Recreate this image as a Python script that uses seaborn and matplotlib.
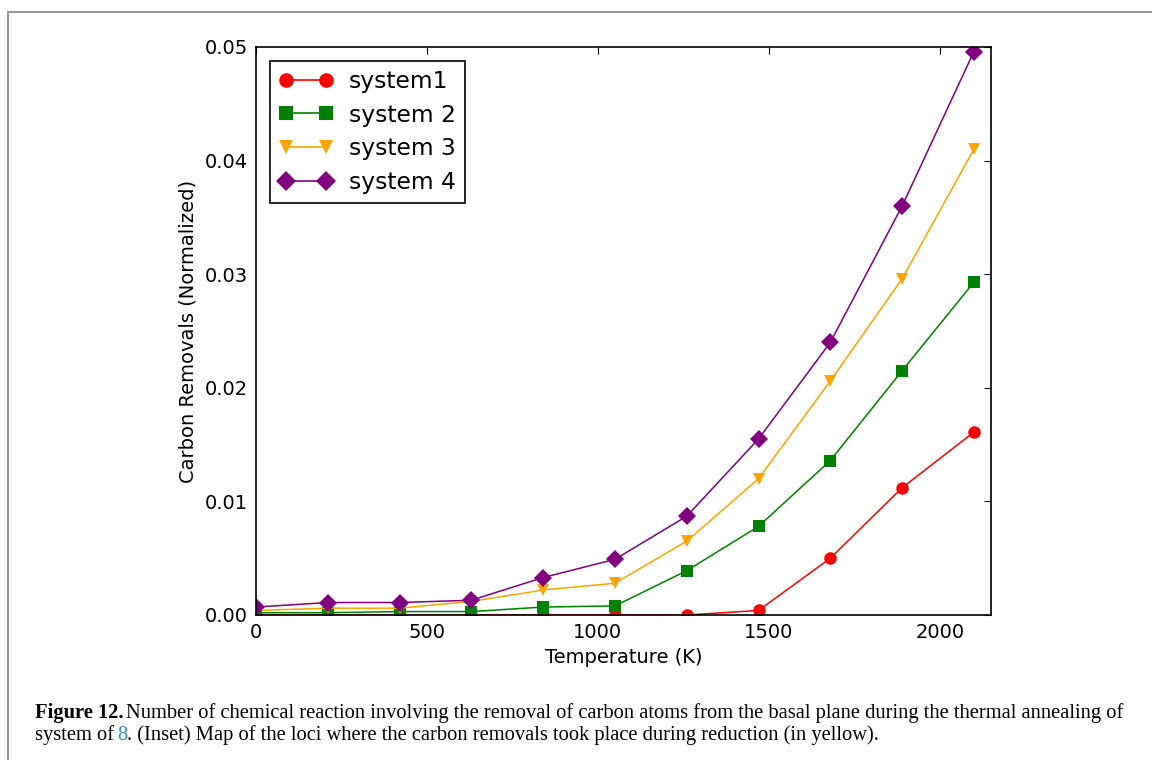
import matplotlib
matplotlib.use("Agg")
import matplotlib.pyplot as plt
from matplotlib.patches import Rectangle
from matplotlib.ticker import FormatStrFormatter
import numpy as np
import pandas as pd
import seaborn as sns

# Annealing temperatures (K)
temperature = [0, 210, 420, 630, 840, 1050, 1260, 1470, 1680, 1890, 2100]

# Normalized carbon removals per system
system1 = [0.0, 0.0, 0.0, 0.0, 0.0, 0.0, 0.0, 0.0004, 0.0050, 0.0112, 0.0161]
system2 = [0.0002, 0.0002, 0.0003, 0.0003, 0.0007, 0.0008, 0.0039, 0.0078, 0.0136, 0.0215, 0.0293]
system3 = [0.0004, 0.0006, 0.0006, 0.0012, 0.0022, 0.0028, 0.0065, 0.0120, 0.0206, 0.0296, 0.0410]
system4 = [0.0007, 0.0011, 0.0011, 0.0013, 0.0033, 0.0049, 0.0087, 0.0155, 0.0240, 0.0360, 0.0496]

series_names = ["system1", "system 2", "system 3", "system 4"]
series_values = [system1, system2, system3, system4]
series_colors = ["#ff0000", "#008000", "#ffa500", "#800080"]
series_markers = ["o", "s", "v", "D"]

x_ticks = [0, 500, 1000, 1500, 2000]
y_ticks = [0.00, 0.01, 0.02, 0.03, 0.04, 0.05]

caption_bold = "Figure 12."
caption_line1 = "Number of chemical reaction involving the removal of carbon atoms from the basal plane during the thermal annealing of"
caption_line2a = "system of"
caption_ref = "8"
caption_line2b = ". (Inset) Map of the loci where the carbon removals took place during reduction (in yellow)."

df = pd.DataFrame({
    "Temperature": np.tile(temperature, len(series_names)),
    "Removals": np.concatenate(series_values),
    "System": np.repeat(series_names, len(temperature)),
})

sns.set_style("white")
plt.rcParams.update({
    "font.family": ["DejaVu Sans"],
    "text.color": "black",
    "axes.labelcolor": "black",
    "xtick.color": "black",
    "ytick.color": "black",
    "xtick.direction": "in",
    "ytick.direction": "in",
    "xtick.top": True,
    "ytick.right": True,
    "xtick.major.size": 5,
    "ytick.major.size": 5,
    "xtick.major.width": 0.8,
    "ytick.major.width": 0.8,
    "axes.edgecolor": "black",
    "axes.linewidth": 1.2,
})

fig = plt.figure(figsize=(11.52, 7.60), dpi=100)
ax = fig.add_axes([256 / 1152, 1 - 615 / 760, (991 - 256) / 1152, (615 - 47) / 760])

sns.lineplot(
    data=df, x="Temperature", y="Removals", hue="System", style="System",
    palette=dict(zip(series_names, series_colors)),
    markers=dict(zip(series_names, series_markers)),
    dashes=False, hue_order=series_names, style_order=series_names,
    markersize=9, markeredgewidth=0, linewidth=1.1, ax=ax, legend=False,
)

ax.set_xlim(0, 2150)
ax.set_ylim(0, 0.05)
ax.set_xticks(x_ticks)
ax.set_yticks(y_ticks)
ax.yaxis.set_major_formatter(FormatStrFormatter("%.2f"))
ax.tick_params(labelsize=14, pad=6, colors="black")
ax.set_xlabel("Temperature (K)", fontsize=14, labelpad=4)
ax.set_ylabel("Carbon Removals (Normalized)", fontsize=14, labelpad=5)
for side in ax.spines.values():
    side.set_visible(True)
    side.set_color("black")

# Legend with two markers joined by the series line
handles = []
for name, color, marker in zip(series_names, series_colors, series_markers):
    h, = ax.plot([], [], color=color, marker=marker, markersize=10.5,
                 markeredgewidth=0, linewidth=1.2, label=name)
    handles.append(h)
leg = ax.legend(handles=handles, loc="upper left", fontsize=16.8, numpoints=2,
                frameon=True, fancybox=False, framealpha=1, edgecolor="black",
                handlelength=2.3, handletextpad=0.7, borderpad=0.38,
                labelspacing=0.46, borderaxespad=0.6)
leg.get_frame().set_linewidth(1.2)

# Page frame around the figure panel
fig.add_artist(Rectangle((8 / 1152, -0.1), 1.2, 1.1 - 12 / 760,
                         transform=fig.transFigure, fill=False,
                         edgecolor="#8c8c8c", linewidth=1.3, clip_on=False))

# Caption
serif = "Liberation Serif"
cap_size = 14.8
t0 = fig.text(35 / 1152, 1 - 718 / 760, caption_bold, fontsize=cap_size,
              family=serif, fontweight="bold", va="baseline")
fig.canvas.draw()
ax.annotate(caption_line1, xy=(1, 0), xycoords=t0, xytext=(3, 0),
            textcoords="offset pixels", fontsize=cap_size, family=serif,
            va="bottom", ha="left", annotation_clip=False)
t1 = fig.text(35 / 1152, 1 - 740 / 760, caption_line2a, fontsize=cap_size,
              family=serif, va="baseline")
t2 = ax.annotate(caption_ref, xy=(1, 0), xycoords=t1, xytext=(3, 0),
                 textcoords="offset pixels", fontsize=cap_size, family=serif,
                 color="#2f8fc4", va="bottom", ha="left", annotation_clip=False)
ax.annotate(caption_line2b, xy=(1, 0), xycoords=t2, xytext=(0, 0),
            textcoords="offset pixels", fontsize=cap_size, family=serif,
            va="bottom", ha="left", annotation_clip=False)

fig.savefig("out.png", dpi=100, facecolor="white")
